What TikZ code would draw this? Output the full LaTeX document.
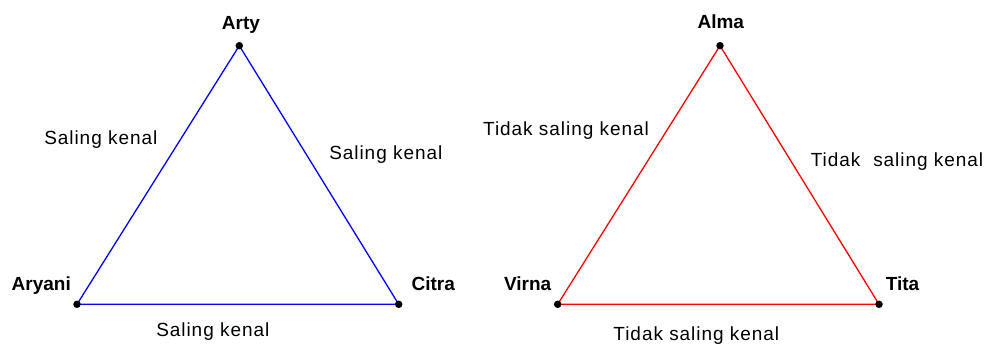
\documentclass[tikz,border=0pt]{standalone}
\usepackage{fontspec}
\setmainfont{Liberation Sans}
\newfontfamily\lblfont[LetterSpace=5]{Liberation Sans}
\begin{document}
\begin{tikzpicture}[x=1pt,y=-1pt,
  vdot/.style={circle,fill=black,inner sep=0pt,minimum size=7.5pt},
  vlabel/.style={font=\fontsize{19}{22}\selectfont\bfseries,anchor=base,inner sep=0pt},
  rel/.style={font=\lblfont\fontsize{19}{22}\selectfont,anchor=base,inner sep=0pt},
  blueedge/.style={draw=blue,line width=1.3pt},
  rededge/.style={draw=red,line width=1.3pt}]
\useasboundingbox (0,0) rectangle (988,345);
\fill[white] (0,0) rectangle (988,345);
% left triangle
\coordinate (arty) at (239.3,45.7);
\coordinate (aryani) at (77,304.3);
\coordinate (citra) at (398.7,304.3);
\path[blueedge] (arty) -- (citra) -- (aryani) -- cycle;
\node[vdot] (artyd) at (arty) {};
\node[vdot] (aryanid) at (aryani) {};
\node[vdot] (citrad) at (citra) {};
\node[vlabel] (lArty) at (241,30) {Arty};
\node[vlabel] (lAryani) at (41.3,290) {Aryani};
\node[vlabel] (lCitra) at (433.3,290) {Citra};
\node[rel] (s1) at (100.8,144) {Saling kenal};
\node[rel] (s2) at (385.8,159) {Saling kenal};
\node[rel] (s3) at (212.8,336.7) {Saling kenal};
% right triangle
\coordinate (alma) at (720,45.7);
\coordinate (virna) at (557.7,304.3);
\coordinate (tita) at (879,304.3);
\path[rededge] (alma) -- (tita) -- (virna) -- cycle;
\node[vdot] (almad) at (alma) {};
\node[vdot] (virnad) at (virna) {};
\node[vdot] (titad) at (tita) {};
\node[vlabel] (lAlma) at (720.8,29) {Alma};
\node[vlabel] (lVirna) at (527.7,290) {Virna};
\node[vlabel] (lTita) at (902.5,290) {Tita};
\node[rel] (t1) at (566,135) {Tidak saling kenal};
\node[rel] (t2) at (897,166.7) {Tidak\hspace{0.35em} saling kenal};
\node[rel] (t3) at (696.3,340) {Tidak saling kenal};
\end{tikzpicture}
\end{document}
